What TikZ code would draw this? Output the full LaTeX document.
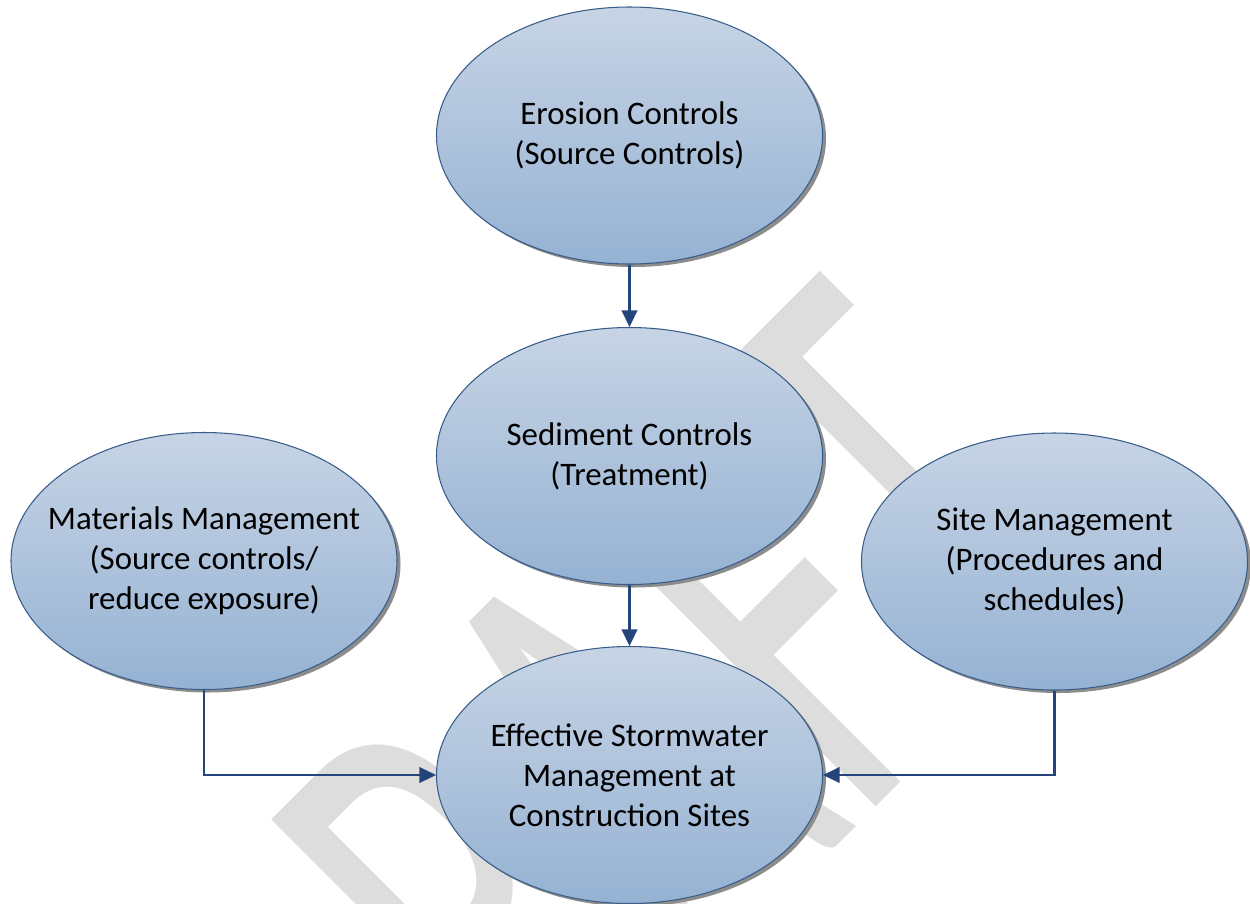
\documentclass[tikz,border=0pt]{standalone}
\usepackage{fontspec}
\setmainfont{Carlito}
\usepackage{tikz}
\usetikzlibrary{positioning, shapes.geometric, shadows, arrows.meta}

\definecolor{bmptop}{RGB}{199,212,229}
\definecolor{bmpbottom}{RGB}{149,178,211}
\definecolor{bmpline}{RGB}{56,93,138}
\definecolor{flowblue}{RGB}{37,69,122}
\definecolor{draftgray}{RGB}{221,221,221}

\begin{document}
\begin{tikzpicture}[on grid,
  bmp node/.style={ellipse, draw=bmpline, line width=0.6pt,
    top color=bmptop, bottom color=bmpbottom,
    minimum width=7.72cm, minimum height=5.14cm, inner xsep=-0.6cm, inner ysep=0pt,
    align=center, font=\fontsize{18.7}{22.7}\selectfont,
    drop shadow={shadow xshift=0.07cm, shadow yshift=-0.06cm, fill=black!45, opacity=1}},
  flow/.style={draw=flowblue, line width=1.3pt, -{Triangle[length=0.33cm, width=0.31cm]}}]

\useasboundingbox (0,0) rectangle (25,-18.06);

\begin{scope}
\clip (0,0) rectangle (25,-18.06);
\node[text=draftgray, anchor=base west, rotate=45, xscale=0.6, inner sep=0pt,
  font=\fontsize{371}{371}\selectfont] (draft) at (7.54,-26.12) {DRAFT};
\end{scope}

\node[bmp node] (ero) at (12.59,-2.71) {Erosion Controls\\(Source Controls)};
\node[bmp node] (sed) [below=6.41cm of ero] {Sediment Controls\\(Treatment)};
\node[bmp node] (eff) [below=6.38cm of sed] {Effective Stormwater\\Management at\\Construction Sites};
\node[bmp node] (mat) [above left=4.28cm and 8.51cm of eff] {Materials Management\\(Source controls/\\reduce exposure)};
\node[bmp node] (site) [above right=4.27cm and 8.50cm of eff] {Site Management\\(Procedures and\\schedules)};

\draw[flow] (ero) -- (sed);
\draw[flow] (sed) -- (eff);
\draw[flow] (mat.south) |- (eff.west);
\draw[flow] (site.south) |- (eff.east);
\end{tikzpicture}
\end{document}
